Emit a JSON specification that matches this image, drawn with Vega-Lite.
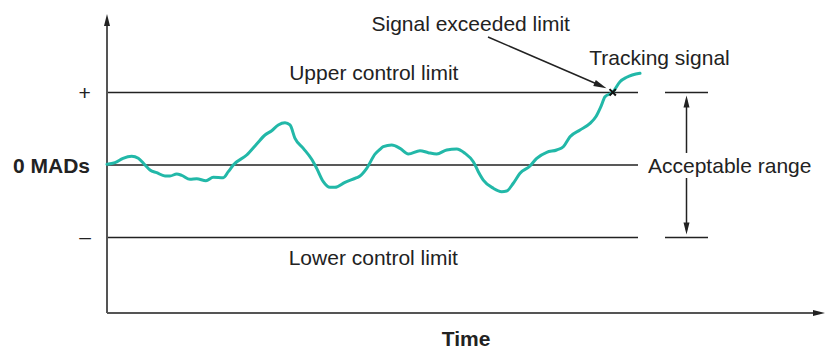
{
  "$schema": "https://vega.github.io/schema/vega-lite/v6.json",
  "autosize": "none",
  "width": 718,
  "height": 298,
  "padding": {"left": 107, "top": 15, "right": 0, "bottom": 37},
  "config": {"view": {"stroke": null}, "text": {"font": "Liberation Sans", "fontSize": 21, "color": "#222222"}},
  "encoding": {
    "x": {"field": "x", "type": "quantitative", "scale": {"domain": [0, 718], "nice": false, "zero": false}, "axis": null},
    "y": {"field": "y", "type": "quantitative", "scale": {"domain": [-2.0414, 2.069], "nice": false, "zero": false}, "axis": null}
  },
  "layer": [
    {
      "data": {"values": [
        {"x": 0, "x2": 531, "y": 1},
        {"x": 0, "x2": 531, "y": 0},
        {"x": 0, "x2": 531, "y": -1},
        {"x": 558, "x2": 601, "y": 1},
        {"x": 558, "x2": 601, "y": -1}
      ]},
      "mark": {"type": "rule", "color": "#222222", "strokeWidth": 1.5},
      "encoding": {"x2": {"field": "x2"}}
    },
    {
      "data": {"values": [
        {"x": 579.5, "y": 0.9, "y2": 0.166},
        {"x": 579.5, "y": -0.179, "y2": -0.9}
      ]},
      "mark": {"type": "rule", "color": "#222222", "strokeWidth": 1.5},
      "encoding": {"y2": {"field": "y2"}}
    },
    {
      "data": {"values": [
        {"x": 0, "x2": 0, "y": -2.0414, "y2": 1.93},
        {"x": 0, "x2": 708, "y": -2.0414, "y2": -2.0414}
      ]},
      "mark": {"type": "rule", "color": "#555555", "strokeWidth": 2},
      "encoding": {"x2": {"field": "x2"}, "y2": {"field": "y2"}}
    },
    {
      "data": {"values": [
        {"x": 381, "x2": 494, "y": 1.766, "y2": 1.093}
      ]},
      "mark": {"type": "rule", "color": "#222222", "strokeWidth": 1.5},
      "encoding": {"x2": {"field": "x2"}, "y2": {"field": "y2"}}
    },
    {
      "data": {"values": [
        {"x": 0, "y": 2.0},
        {"x": 579.5, "y": 0.876}
      ]},
      "mark": {"type": "point", "shape": "M0,-1L0.5,1L-0.5,1Z", "filled": true, "color": "#222222", "opacity": 1, "size": 144}
    },
    {
      "data": {"values": [
        {"x": 579.5, "y": -0.876}
      ]},
      "mark": {"type": "point", "shape": "M0,1L0.5,-1L-0.5,-1Z", "filled": true, "color": "#222222", "opacity": 1, "size": 144}
    },
    {
      "data": {"values": [
        {"x": 712, "y": -2.0414}
      ]},
      "mark": {"type": "point", "shape": "M1,0L-1,0.5L-1,-0.5Z", "filled": true, "color": "#222222", "opacity": 1, "size": 144}
    },
    {
      "data": {"values": [
        {"x": 493.5, "y": 1.095}
      ]},
      "mark": {"type": "point", "shape": "M1,0L-1,0.5L-1,-0.5Z", "angle": 23.4, "filled": true, "color": "#222222", "opacity": 1, "size": 169}
    },
    {
      "data": {"values": [
        {"x": 0, "y": 0.01}, {"x": 8, "y": 0.032}, {"x": 16, "y": 0.092}, {"x": 24.7, "y": 0.12},
        {"x": 31.3, "y": 0.092}, {"x": 38, "y": 0.0}, {"x": 43, "y": -0.069}, {"x": 49.7, "y": -0.106},
        {"x": 58, "y": -0.152}, {"x": 63, "y": -0.152}, {"x": 69.7, "y": -0.124}, {"x": 74.7, "y": -0.142},
        {"x": 83, "y": -0.197}, {"x": 89.7, "y": -0.189}, {"x": 99, "y": -0.217}, {"x": 106.3, "y": -0.17},
        {"x": 116.3, "y": -0.175}, {"x": 121.3, "y": -0.092}, {"x": 126.3, "y": 0.0}, {"x": 139.7, "y": 0.138},
        {"x": 149.7, "y": 0.29}, {"x": 158, "y": 0.414}, {"x": 164.7, "y": 0.473}, {"x": 171.3, "y": 0.552},
        {"x": 178, "y": 0.583}, {"x": 183, "y": 0.552}, {"x": 188, "y": 0.368}, {"x": 196.3, "y": 0.23},
        {"x": 204.7, "y": 0.079}, {"x": 209.7, "y": -0.046}, {"x": 216.3, "y": -0.23}, {"x": 223, "y": -0.308},
        {"x": 228, "y": -0.308}, {"x": 238, "y": -0.239}, {"x": 249.7, "y": -0.175}, {"x": 253, "y": -0.152},
        {"x": 259.7, "y": -0.046}, {"x": 268, "y": 0.15}, {"x": 273, "y": 0.217}, {"x": 276.3, "y": 0.252},
        {"x": 284.7, "y": 0.276}, {"x": 293, "y": 0.23}, {"x": 301.3, "y": 0.152}, {"x": 313, "y": 0.197},
        {"x": 321.3, "y": 0.17}, {"x": 329.7, "y": 0.152}, {"x": 339.7, "y": 0.207}, {"x": 349.7, "y": 0.221},
        {"x": 358, "y": 0.161}, {"x": 366.3, "y": 0.046}, {"x": 371.3, "y": -0.092}, {"x": 376.3, "y": -0.207},
        {"x": 386.3, "y": -0.321}, {"x": 394.7, "y": -0.368}, {"x": 399.7, "y": -0.359}, {"x": 406.3, "y": -0.252},
        {"x": 413, "y": -0.114}, {"x": 423, "y": -0.014}, {"x": 429.7, "y": 0.092}, {"x": 439.7, "y": 0.175},
        {"x": 449.7, "y": 0.207}, {"x": 456.3, "y": 0.252}, {"x": 463, "y": 0.39}, {"x": 473, "y": 0.483},
        {"x": 483, "y": 0.575}, {"x": 489, "y": 0.67}, {"x": 494, "y": 0.81}, {"x": 498, "y": 0.942},
        {"x": 505.7, "y": 1.003}, {"x": 513, "y": 1.149}, {"x": 519.7, "y": 1.21}, {"x": 533, "y": 1.265}
      ]},
      "mark": {"type": "line", "color": "#22b8a8", "strokeWidth": 3, "interpolate": "monotone", "strokeCap": "round"}
    },
    {
      "data": {"values": [
        {"x": 505.7, "y": 1.003}
      ]},
      "mark": {"type": "point", "shape": "M-1,-1L1,1M-1,1L1,-1", "filled": false, "color": "#111111", "opacity": 1, "strokeWidth": 2, "size": 40}
    },
    {
      "data": {"values": [
        {"x": 363.7, "y": 1.852, "label": "Signal exceeded limit"},
        {"x": 552.5, "y": 1.379, "label": "Tracking signal"},
        {"x": 266.8, "y": 1.172, "label": "Upper control limit"},
        {"x": 266.3, "y": -1.379, "label": "Lower control limit"},
        {"x": -22.5, "y": 0.897, "label": "+"},
        {"x": -22, "y": -1.083, "label": "–"}
      ]},
      "mark": {"type": "text", "align": "center", "baseline": "alphabetic"},
      "encoding": {"text": {"field": "label"}}
    },
    {
      "data": {"values": [
        {"x": 541, "y": -0.114, "label": "Acceptable range"}
      ]},
      "mark": {"type": "text", "align": "left", "baseline": "alphabetic"},
      "encoding": {"text": {"field": "label"}}
    },
    {
      "data": {"values": [
        {"x": -17, "y": -0.106, "label": "0 MADs"}
      ]},
      "mark": {"type": "text", "align": "right", "baseline": "alphabetic", "fontWeight": "bold"},
      "encoding": {"text": {"field": "label"}}
    },
    {
      "data": {"values": [
        {"x": 359, "y": -2.49, "label": "Time"}
      ]},
      "mark": {"type": "text", "align": "center", "baseline": "alphabetic", "fontWeight": "bold"},
      "encoding": {"text": {"field": "label"}}
    }
  ]
}
